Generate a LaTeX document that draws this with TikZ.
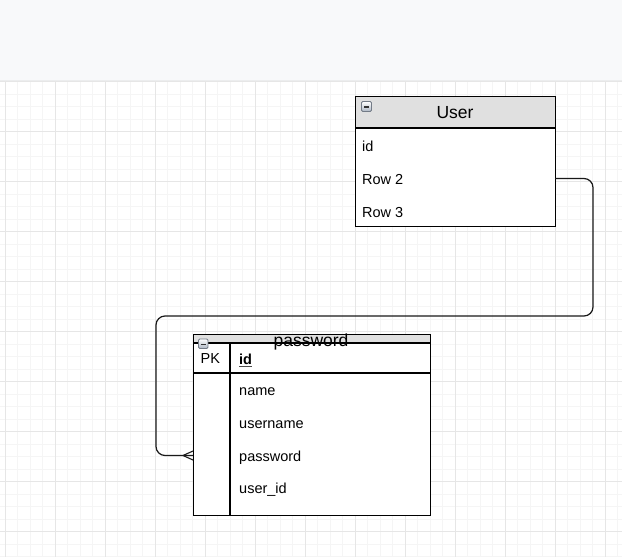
\documentclass[tikz,border=0pt]{standalone}
\usepackage{fontspec}
\setmainfont{Liberation Sans}
\begin{document}
\begin{tikzpicture}[x=1pt,y=-1pt,
  tbl/.style={draw=black,line width=1.2pt},
  hdr/.style={fill=hdrgray},
  rowtxt/.style={anchor=west,inner sep=0pt,font=\fontsize{14.5}{17}\selectfont},
  ttl/.style={inner sep=0pt,font=\fontsize{17.5}{20}\selectfont},
  link/.style={draw=black!90,line width=1.2pt,rounded corners=9pt},
  foot/.style={draw=black!90,line width=1.1pt},
  collapse/.style={draw=iconedge,line width=0.8pt,rounded corners=1.2pt,top color=white,bottom color=icongray}]
\definecolor{band}{HTML}{F8F9FA}
\definecolor{bandedge}{HTML}{ECEDEE}
\definecolor{gridminor}{HTML}{F5F5F5}
\definecolor{gridmajor}{HTML}{E6E6E6}
\definecolor{hdrgray}{HTML}{E0E0E0}
\definecolor{iconedge}{HTML}{737B87}
\definecolor{icongray}{HTML}{AEB7C4}
\useasboundingbox (0,0) rectangle (622,557);
\fill[white] (0,0) rectangle (622,557);
% toolbar band
\fill[band] (0,0) rectangle (622,80.5);
% background grid
\foreach \i in {0,...,49} {
  \pgfmathsetmacro{\gx}{5.3+12.5*\i}
  \draw[gridminor,line width=0.8pt] (\gx,81) -- (\gx,557);
}
\foreach \i in {0,...,38} {
  \pgfmathsetmacro{\gy}{81.7+12.5*\i}
  \draw[gridminor,line width=0.8pt] (0,\gy) -- (622,\gy);
}
\foreach \i in {0,...,12} {
  \pgfmathsetmacro{\gx}{5.3+50*\i}
  \draw[gridmajor,line width=0.9pt] (\gx,81) -- (\gx,557);
}
\foreach \i in {0,...,9} {
  \pgfmathsetmacro{\gy}{81.7+50*\i}
  \draw[gridmajor,line width=0.9pt] (0,\gy) -- (622,\gy);
}
\draw[bandedge,line width=1pt] (0,80.5) -- (622,80.5);

% ---- User table ----
\fill[white] (355,96) rectangle (555,226);
\fill[hdrgray] (355,96) rectangle (555,128);
\node[tbl,minimum width=200pt,minimum height=130pt,anchor=north west,inner sep=0pt] (user) at (355,96) {};
\draw[tbl] (355,128) -- (555,128);
\node[ttl] (usertitle) at (455,113) {User};
\node[rowtxt] (uid) at (362,146.5) {id};
\node[rowtxt] (urow2) at (362,179.3) {Row 2};
\node[rowtxt] (urow3) at (362,212.3) {Row 3};
\coordinate (uout) at (555,178.5);
\draw[collapse] (361.5,101.5) rectangle (371.5,111.5);
\draw[black!80,line width=1.4pt] (364,107) -- (369,107);

% ---- password table ----
\fill[white] (193,334) rectangle (430,515);
\fill[hdrgray] (193,334) rectangle (430,343);
\node[tbl,minimum width=237pt,minimum height=181pt,anchor=north west,inner sep=0pt] (pw) at (193,334) {};
\draw[tbl] (193,343) -- (430,343);
\draw[tbl] (193,373) -- (430,373);
\draw[tbl] (230,343) -- (230,515);
\node[ttl,anchor=base] (pwtitle) at (311,346.5) {password};
\draw[collapse] (198.5,339) rectangle (208,348.5);
\draw[black!80,line width=1.4pt] (200.8,344.5) -- (205.7,344.5);
\node[rowtxt] (pk) at (200.5,359) {PK};
\node[rowtxt] (pid) at (239,359) {\textbf{id}};
\draw[black!70,line width=1pt] (239,366.5) -- (251.5,366.5);
\node[rowtxt] (pname) at (239,392) {name};
\node[rowtxt] (puser) at (239,425) {username};
\node[rowtxt] (ppass) at (239,457.5) {password};
\node[rowtxt] (puid) at (239,490) {user\_id};
\coordinate (pin) at (193,455.5);

% ---- relationship: one User to many password ----
\draw[link] (uout) -- (593,178.5) -- (593,316) -- (156,316) -- (156,455.5) -- (pin);
\coordinate (footTip) at (183,455.5);
\draw[foot] (pin |- 0,451) -- (footTip) -- (pin |- 0,460);
\end{tikzpicture}
\end{document}
